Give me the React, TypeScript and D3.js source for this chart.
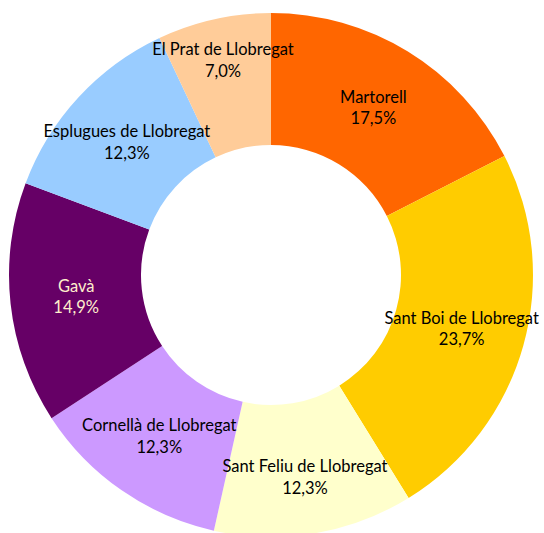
import { useEffect, useRef } from "react";
import * as d3 from "d3";

const municipis = [
  "Martorell",
  "Sant Boi de Llobregat",
  "Sant Feliu de Llobregat",
  "Cornellà de Llobregat",
  "Gavà",
  "Esplugues de Llobregat",
  "El Prat de Llobregat",
];
const percentatges = [17.5, 23.7, 12.3, 12.3, 14.9, 12.3, 7.0];
const colors = ["#ff6600", "#ffcc00", "#ffffcc", "#cc99ff", "#660066", "#99ccff", "#ffcc99"];
const colorsText = ["#000", "#000", "#000", "#000", "#ffeecc", "#000", "#000"];
// desplaçament radial de les etiquetes (com fa Excel quan no hi caben)
const radiEtiqueta = [196, 198, 205, 196, 196, 196, 220];

const W = 544;
const H = 533;

type Dada = { nom: string; valor: number; i: number };

export default function App() {
  const ref = useRef<SVGSVGElement | null>(null);

  useEffect(() => {
    if (!ref.current) return;
    const svg = d3.select(ref.current);
    svg.selectAll("*").remove();

    const cx = 271;
    const cy = 275;
    const outer = 262;
    const inner = 130;

    const dades: Dada[] = municipis.map((nom, i) => ({ nom, valor: percentatges[i], i }));

    const pie = d3
      .pie<Dada>()
      .value((d) => d.valor)
      .sort(null);

    const arc = d3.arc<d3.PieArcDatum<Dada>>().innerRadius(inner).outerRadius(outer);

    const g = svg.append("g").attr("transform", `translate(${cx},${cy})`);
    const arcs = pie(dades);

    g.selectAll("path")
      .data(arcs)
      .enter()
      .append("path")
      .attr("d", arc)
      .attr("fill", (d) => colors[d.data.i]);

    // etiquetes
    const etiquetes = g
      .selectAll("text")
      .data(arcs)
      .enter()
      .append("text")
      .attr("transform", (d) => {
        const r = radiEtiqueta[d.data.i];
        const [x, y] = d3
          .arc<d3.PieArcDatum<Dada>>()
          .innerRadius(r)
          .outerRadius(r)
          .centroid(d);
        return `translate(${x},${y})`;
      })
      .attr("text-anchor", "middle")
      .style("font-family", "Lato, 'Noto Sans', sans-serif")
      .style("font-size", "16.5px")
      .style("fill", (d) => colorsText[d.data.i]);

    etiquetes
      .append("tspan")
      .attr("x", 0)
      .attr("dy", "-0.3em")
      .text((d) => d.data.nom);

    etiquetes
      .append("tspan")
      .attr("x", 0)
      .attr("dy", "1.3em")
      .text((d) => d.data.valor.toFixed(1).replace(".", ",") + "%");
  }, []);

  return (
    <svg
      ref={ref}
      width={W}
      height={H}
      style={{ position: "absolute", left: 0, top: 0, background: "#fff" }}
    />
  );
}
